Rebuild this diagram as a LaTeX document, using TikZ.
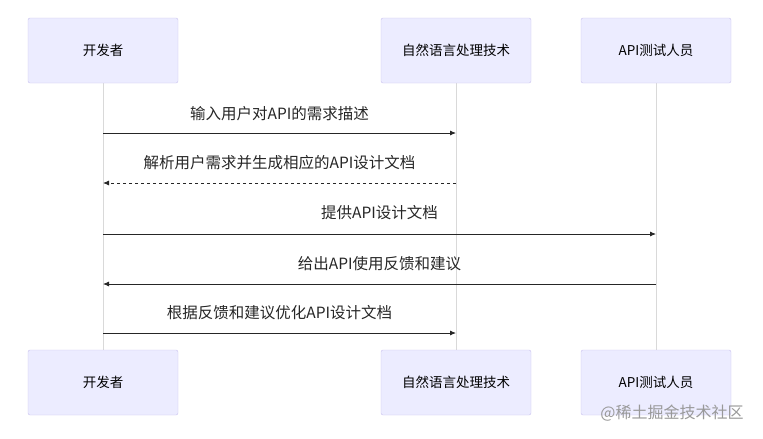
\documentclass[tikz,border=0pt]{standalone}
\usepackage{fontspec}
\setmainfont{Noto Sans CJK SC}
\usetikzlibrary{arrows.meta}
\definecolor{actfill}{HTML}{ECECFF}
\definecolor{actdraw}{HTML}{C8C0EE}
\tikzset{x=1pt,y=-1pt,
 actor/.style={draw=actdraw,fill=actfill,minimum width=150pt,minimum height=65pt,rounded corners=2pt,font=\fontsize{13.5}{15}\selectfont},
 life/.style={draw=black!15,line width=0.8pt},
 msg/.style={draw=black!85,line width=0.8pt,-{Latex[length=6pt,width=5pt]}},
 lbl/.style={font=\fontsize{15.5}{17}\selectfont,text=black!85}}
\begin{document}
\begin{tikzpicture}
\useasboundingbox (0,0) rectangle (763,439);
\foreach \n/\x/\t in {a/103/开发者,b/456/自然语言处理技术,c/656/API测试人员}{
 \draw[life] (\x,83) -- (\x,350);
 \node[actor] (\n t) at (\x,50.5) {\t};
 \node[actor] (\n b) at (\x,382.5) {\t};
}
\coordinate (a1) at (103,133); \coordinate (b1) at (456,133);
\coordinate (a2) at (103,183); \coordinate (b2) at (456,183);
\coordinate (a3) at (103,234); \coordinate (c3) at (656,234);
\coordinate (a4) at (103,284); \coordinate (c4) at (656,284);
\coordinate (a5) at (103,333); \coordinate (b5) at (456,333);
\draw[msg] (a1) -- (b1);
\draw[msg,dashed] (b2) -- (a2);
\draw[msg] (a3) -- (c3);
\draw[msg] (c4) -- (a4);
\draw[msg] (a5) -- (b5);
\node[lbl] (l1) at (279.5,114) {输入用户对API的需求描述};
\node[lbl] (l2) at (279.5,163) {解析用户需求并生成相应的API设计文档};
\node[lbl] (l3) at (379.5,213) {提供API设计文档};
\node[lbl] (l4) at (379.5,264) {给出API使用反馈和建议};
\node[lbl] (l5) at (279.5,313) {根据反馈和建议优化API设计文档};
\node[font=\fontsize{16}{18}\selectfont,text=black!40] (wm) at (672,413) {@稀土掘金技术社区};
\end{tikzpicture}
\end{document}
